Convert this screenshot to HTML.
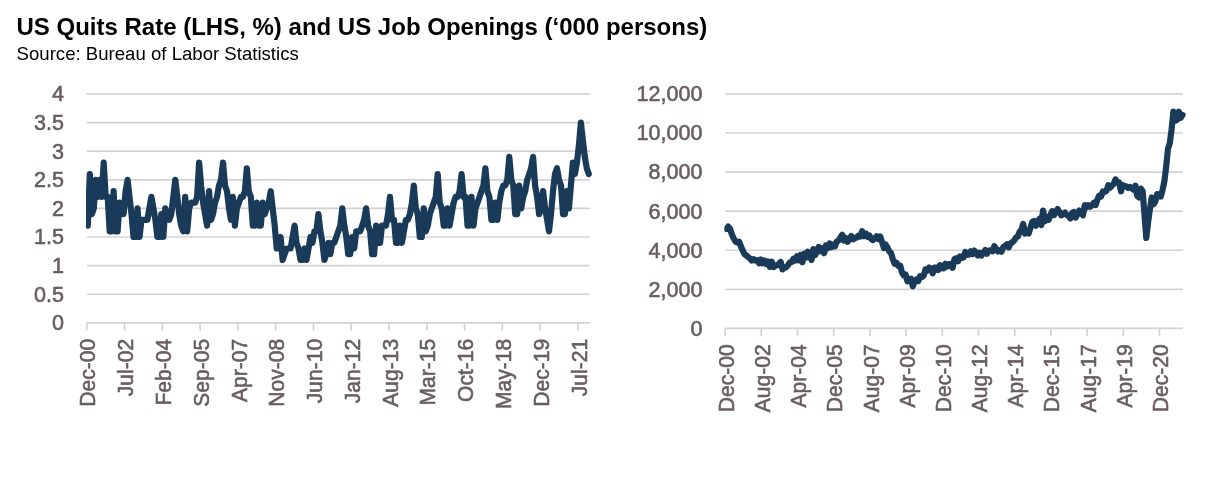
<!DOCTYPE html>
<html><head><meta charset="utf-8"><title>US Quits Rate and Job Openings</title>
<style>
html,body{margin:0;padding:0;background:#fff;}
body{width:1222px;height:482px;overflow:hidden;font-family:"Liberation Sans",sans-serif;}
svg{display:block;will-change:transform;}
</style></head><body>
<svg width="1222" height="482" viewBox="0 0 1222 482" font-family="'Liberation Sans', sans-serif">
<text id="title" x="16.5" y="35.0" font-size="24.0" font-weight="bold" fill="#000">US Quits Rate (LHS, %) and US Job Openings (‘000 persons)</text>
<text id="src" x="16.6" y="59.6" font-size="18.6" fill="#000">Source: Bureau of Labor Statistics</text>
<g id="left">
<line x1="86.80" y1="322.90" x2="589.80" y2="322.90" stroke="#d6d2d3" stroke-width="1.7"/>
<text transform="translate(64.0,330.30) scale(0.95,1)" text-anchor="end" font-size="22.7" fill="#695d60" stroke="#695d60" stroke-width="0.6">0</text>
<line x1="86.80" y1="294.27" x2="589.80" y2="294.27" stroke="#d6d2d3" stroke-width="1.7"/>
<text transform="translate(64.0,301.67) scale(0.95,1)" text-anchor="end" font-size="22.7" fill="#695d60" stroke="#695d60" stroke-width="0.6">0.5</text>
<line x1="86.80" y1="265.65" x2="589.80" y2="265.65" stroke="#d6d2d3" stroke-width="1.7"/>
<text transform="translate(64.0,273.05) scale(0.95,1)" text-anchor="end" font-size="22.7" fill="#695d60" stroke="#695d60" stroke-width="0.6">1</text>
<line x1="86.80" y1="237.02" x2="589.80" y2="237.02" stroke="#d6d2d3" stroke-width="1.7"/>
<text transform="translate(64.0,244.42) scale(0.95,1)" text-anchor="end" font-size="22.7" fill="#695d60" stroke="#695d60" stroke-width="0.6">1.5</text>
<line x1="86.80" y1="208.40" x2="589.80" y2="208.40" stroke="#d6d2d3" stroke-width="1.7"/>
<text transform="translate(64.0,215.80) scale(0.95,1)" text-anchor="end" font-size="22.7" fill="#695d60" stroke="#695d60" stroke-width="0.6">2</text>
<line x1="86.80" y1="179.78" x2="589.80" y2="179.78" stroke="#d6d2d3" stroke-width="1.7"/>
<text transform="translate(64.0,187.18) scale(0.95,1)" text-anchor="end" font-size="22.7" fill="#695d60" stroke="#695d60" stroke-width="0.6">2.5</text>
<line x1="86.80" y1="151.15" x2="589.80" y2="151.15" stroke="#d6d2d3" stroke-width="1.7"/>
<text transform="translate(64.0,158.55) scale(0.95,1)" text-anchor="end" font-size="22.7" fill="#695d60" stroke="#695d60" stroke-width="0.6">3</text>
<line x1="86.80" y1="122.53" x2="589.80" y2="122.53" stroke="#d6d2d3" stroke-width="1.7"/>
<text transform="translate(64.0,129.93) scale(0.95,1)" text-anchor="end" font-size="22.7" fill="#695d60" stroke="#695d60" stroke-width="0.6">3.5</text>
<line x1="86.80" y1="93.90" x2="589.80" y2="93.90" stroke="#d6d2d3" stroke-width="1.7"/>
<text transform="translate(64.0,101.30) scale(0.95,1)" text-anchor="end" font-size="22.7" fill="#695d60" stroke="#695d60" stroke-width="0.6">4</text>
<line x1="86.80" y1="322.90" x2="86.80" y2="330.70" stroke="#d6d2d3" stroke-width="1.7"/>
<text transform="translate(95.49,338.90) rotate(-90) scale(0.93,1)" text-anchor="end" font-size="22.6" fill="#695d60" stroke="#695d60" stroke-width="0.6">Dec-00</text>
<line x1="124.57" y1="322.90" x2="124.57" y2="330.70" stroke="#d6d2d3" stroke-width="1.7"/>
<text transform="translate(133.27,338.90) rotate(-90) scale(0.93,1)" text-anchor="end" font-size="22.6" fill="#695d60" stroke="#695d60" stroke-width="0.6">Jul-02</text>
<line x1="162.35" y1="322.90" x2="162.35" y2="330.70" stroke="#d6d2d3" stroke-width="1.7"/>
<text transform="translate(171.04,338.90) rotate(-90) scale(0.93,1)" text-anchor="end" font-size="22.6" fill="#695d60" stroke="#695d60" stroke-width="0.6">Feb-04</text>
<line x1="200.12" y1="322.90" x2="200.12" y2="330.70" stroke="#d6d2d3" stroke-width="1.7"/>
<text transform="translate(208.82,338.90) rotate(-90) scale(0.93,1)" text-anchor="end" font-size="22.6" fill="#695d60" stroke="#695d60" stroke-width="0.6">Sep-05</text>
<line x1="237.90" y1="322.90" x2="237.90" y2="330.70" stroke="#d6d2d3" stroke-width="1.7"/>
<text transform="translate(246.59,338.90) rotate(-90) scale(0.93,1)" text-anchor="end" font-size="22.6" fill="#695d60" stroke="#695d60" stroke-width="0.6">Apr-07</text>
<line x1="275.67" y1="322.90" x2="275.67" y2="330.70" stroke="#d6d2d3" stroke-width="1.7"/>
<text transform="translate(284.37,338.90) rotate(-90) scale(0.93,1)" text-anchor="end" font-size="22.6" fill="#695d60" stroke="#695d60" stroke-width="0.6">Nov-08</text>
<line x1="313.45" y1="322.90" x2="313.45" y2="330.70" stroke="#d6d2d3" stroke-width="1.7"/>
<text transform="translate(322.14,338.90) rotate(-90) scale(0.93,1)" text-anchor="end" font-size="22.6" fill="#695d60" stroke="#695d60" stroke-width="0.6">Jun-10</text>
<line x1="351.22" y1="322.90" x2="351.22" y2="330.70" stroke="#d6d2d3" stroke-width="1.7"/>
<text transform="translate(359.92,338.90) rotate(-90) scale(0.93,1)" text-anchor="end" font-size="22.6" fill="#695d60" stroke="#695d60" stroke-width="0.6">Jan-12</text>
<line x1="389.00" y1="322.90" x2="389.00" y2="330.70" stroke="#d6d2d3" stroke-width="1.7"/>
<text transform="translate(397.69,338.90) rotate(-90) scale(0.93,1)" text-anchor="end" font-size="22.6" fill="#695d60" stroke="#695d60" stroke-width="0.6">Aug-13</text>
<line x1="426.77" y1="322.90" x2="426.77" y2="330.70" stroke="#d6d2d3" stroke-width="1.7"/>
<text transform="translate(435.47,338.90) rotate(-90) scale(0.93,1)" text-anchor="end" font-size="22.6" fill="#695d60" stroke="#695d60" stroke-width="0.6">Mar-15</text>
<line x1="464.55" y1="322.90" x2="464.55" y2="330.70" stroke="#d6d2d3" stroke-width="1.7"/>
<text transform="translate(473.24,338.90) rotate(-90) scale(0.93,1)" text-anchor="end" font-size="22.6" fill="#695d60" stroke="#695d60" stroke-width="0.6">Oct-16</text>
<line x1="502.32" y1="322.90" x2="502.32" y2="330.70" stroke="#d6d2d3" stroke-width="1.7"/>
<text transform="translate(511.02,338.90) rotate(-90) scale(0.93,1)" text-anchor="end" font-size="22.6" fill="#695d60" stroke="#695d60" stroke-width="0.6">May-18</text>
<line x1="540.10" y1="322.90" x2="540.10" y2="330.70" stroke="#d6d2d3" stroke-width="1.7"/>
<text transform="translate(548.79,338.90) rotate(-90) scale(0.93,1)" text-anchor="end" font-size="22.6" fill="#695d60" stroke="#695d60" stroke-width="0.6">Dec-19</text>
<line x1="577.87" y1="322.90" x2="577.87" y2="330.70" stroke="#d6d2d3" stroke-width="1.7"/>
<text transform="translate(586.57,338.90) rotate(-90) scale(0.93,1)" text-anchor="end" font-size="22.6" fill="#695d60" stroke="#695d60" stroke-width="0.6">Jul-21</text>
<clipPath id="c86"><rect x="86.05" y="0" width="700" height="482"/></clipPath>
<polyline clip-path="url(#c86)" points="87.8,225.6 89.8,174.0 91.8,214.1 93.8,208.4 95.7,179.8 97.7,196.9 99.7,179.8 101.7,196.9 103.7,162.6 105.7,196.9 107.7,196.9 109.7,231.3 111.7,231.3 113.6,191.2 115.6,231.3 117.6,231.3 119.6,202.7 121.6,208.4 123.6,214.1 125.6,191.2 127.6,179.8 129.5,196.9 131.5,214.1 133.5,237.0 135.5,237.0 137.5,208.4 139.5,237.0 141.5,219.8 143.5,219.8 145.5,219.8 147.4,219.8 149.4,208.4 151.4,196.9 153.4,208.4 155.4,219.8 157.4,237.0 159.4,237.0 161.4,214.1 163.3,237.0 165.3,208.4 167.3,214.1 169.3,219.8 171.3,214.1 173.3,196.9 175.3,179.8 177.3,196.9 179.2,214.1 181.2,225.6 183.2,231.3 185.2,196.9 187.2,231.3 189.2,208.4 191.2,202.7 193.2,202.7 195.2,202.7 197.1,196.9 199.1,162.6 201.1,185.5 203.1,202.7 205.1,214.1 207.1,225.6 209.1,191.2 211.1,219.8 213.0,214.1 215.0,202.7 217.0,196.9 219.0,185.5 221.0,179.8 223.0,162.6 225.0,185.5 227.0,191.2 229.0,208.4 230.9,219.8 232.9,196.9 234.9,225.6 236.9,208.4 238.9,202.7 240.9,196.9 242.9,196.9 244.9,191.2 246.8,168.3 248.8,191.2 250.8,196.9 252.8,225.6 254.8,225.6 256.8,202.7 258.8,225.6 260.8,225.6 262.8,202.7 264.7,214.1 266.7,208.4 268.7,202.7 270.7,191.2 272.7,208.4 274.7,225.6 276.7,248.5 278.7,248.5 280.6,237.0 282.6,259.9 284.6,254.2 286.6,248.5 288.6,248.5 290.6,248.5 292.6,237.0 294.6,225.6 296.5,242.8 298.5,248.5 300.5,259.9 302.5,259.9 304.5,248.5 306.5,259.9 308.5,248.5 310.5,237.0 312.5,242.8 314.4,231.3 316.4,231.3 318.4,214.1 320.4,231.3 322.4,242.8 324.4,259.9 326.4,254.2 328.4,242.8 330.3,254.2 332.3,242.8 334.3,242.8 336.3,237.0 338.3,231.3 340.3,225.6 342.3,208.4 344.3,225.6 346.3,237.0 348.2,254.2 350.2,254.2 352.2,237.0 354.2,248.5 356.2,231.3 358.2,231.3 360.2,231.3 362.2,225.6 364.1,219.8 366.1,208.4 368.1,225.6 370.1,231.3 372.1,254.2 374.1,254.2 376.1,225.6 378.1,242.8 380.1,242.8 382.0,225.6 384.0,225.6 386.0,225.6 388.0,214.1 390.0,196.9 392.0,219.8 394.0,219.8 396.0,242.8 397.9,242.8 399.9,225.6 401.9,242.8 403.9,231.3 405.9,219.8 407.9,219.8 409.9,214.1 411.9,202.7 413.8,185.5 415.8,208.4 417.8,214.1 419.8,237.0 421.8,237.0 423.8,208.4 425.8,231.3 427.8,225.6 429.8,214.1 431.7,208.4 433.7,202.7 435.7,196.9 437.7,174.0 439.7,202.7 441.7,208.4 443.7,225.6 445.7,225.6 447.6,208.4 449.6,225.6 451.6,214.1 453.6,202.7 455.6,196.9 457.6,196.9 459.6,191.2 461.6,174.0 463.6,196.9 465.5,196.9 467.5,225.6 469.5,225.6 471.5,196.9 473.5,225.6 475.5,208.4 477.5,202.7 479.5,196.9 481.4,191.2 483.4,185.5 485.4,168.3 487.4,191.2 489.4,196.9 491.4,219.8 493.4,219.8 495.4,202.7 497.4,219.8 499.3,202.7 501.3,191.2 503.3,185.5 505.3,185.5 507.3,179.8 509.3,156.9 511.3,179.8 513.3,185.5 515.2,214.1 517.2,214.1 519.2,185.5 521.2,208.4 523.2,196.9 525.2,191.2 527.2,179.8 529.2,174.0 531.1,168.3 533.1,156.9 535.1,185.5 537.1,196.9 539.1,214.1 541.1,208.4 543.1,191.2 545.1,208.4 547.1,219.8 549.0,231.3 551.0,214.1 553.0,191.2 555.0,174.0 557.0,168.3 559.0,179.8 561.0,185.5 563.0,214.1 564.9,214.1 566.9,191.2 568.9,208.4 570.9,185.5 572.9,162.6 574.9,174.0 576.9,162.6 578.9,145.4 580.9,122.5 582.8,139.7 584.8,156.9 586.8,168.3 588.8,174.0" fill="none" stroke="#193b59" stroke-width="6.2" stroke-linejoin="round" stroke-linecap="round"/>
</g><g id="right">
<line x1="725.10" y1="328.40" x2="1183.00" y2="328.40" stroke="#d6d2d3" stroke-width="1.7"/>
<text transform="translate(702.5,335.80) scale(0.95,1)" text-anchor="end" font-size="22.7" fill="#695d60" stroke="#695d60" stroke-width="0.6">0</text>
<line x1="725.10" y1="289.32" x2="1183.00" y2="289.32" stroke="#d6d2d3" stroke-width="1.7"/>
<text transform="translate(702.5,296.72) scale(0.95,1)" text-anchor="end" font-size="22.7" fill="#695d60" stroke="#695d60" stroke-width="0.6">2,000</text>
<line x1="725.10" y1="250.23" x2="1183.00" y2="250.23" stroke="#d6d2d3" stroke-width="1.7"/>
<text transform="translate(702.5,257.63) scale(0.95,1)" text-anchor="end" font-size="22.7" fill="#695d60" stroke="#695d60" stroke-width="0.6">4,000</text>
<line x1="725.10" y1="211.15" x2="1183.00" y2="211.15" stroke="#d6d2d3" stroke-width="1.7"/>
<text transform="translate(702.5,218.55) scale(0.95,1)" text-anchor="end" font-size="22.7" fill="#695d60" stroke="#695d60" stroke-width="0.6">6,000</text>
<line x1="725.10" y1="172.07" x2="1183.00" y2="172.07" stroke="#d6d2d3" stroke-width="1.7"/>
<text transform="translate(702.5,179.47) scale(0.95,1)" text-anchor="end" font-size="22.7" fill="#695d60" stroke="#695d60" stroke-width="0.6">8,000</text>
<line x1="725.10" y1="132.98" x2="1183.00" y2="132.98" stroke="#d6d2d3" stroke-width="1.7"/>
<text transform="translate(702.5,140.38) scale(0.95,1)" text-anchor="end" font-size="22.7" fill="#695d60" stroke="#695d60" stroke-width="0.6">10,000</text>
<line x1="725.10" y1="93.90" x2="1183.00" y2="93.90" stroke="#d6d2d3" stroke-width="1.7"/>
<text transform="translate(702.5,101.30) scale(0.95,1)" text-anchor="end" font-size="22.7" fill="#695d60" stroke="#695d60" stroke-width="0.6">12,000</text>
<line x1="725.10" y1="328.40" x2="725.10" y2="336.20" stroke="#d6d2d3" stroke-width="1.7"/>
<text transform="translate(733.70,344.40) rotate(-90) scale(0.93,1)" text-anchor="end" font-size="22.6" fill="#695d60" stroke="#695d60" stroke-width="0.6">Dec-00</text>
<line x1="761.30" y1="328.40" x2="761.30" y2="336.20" stroke="#d6d2d3" stroke-width="1.7"/>
<text transform="translate(769.90,344.40) rotate(-90) scale(0.93,1)" text-anchor="end" font-size="22.6" fill="#695d60" stroke="#695d60" stroke-width="0.6">Aug-02</text>
<line x1="797.50" y1="328.40" x2="797.50" y2="336.20" stroke="#d6d2d3" stroke-width="1.7"/>
<text transform="translate(806.10,344.40) rotate(-90) scale(0.93,1)" text-anchor="end" font-size="22.6" fill="#695d60" stroke="#695d60" stroke-width="0.6">Apr-04</text>
<line x1="833.69" y1="328.40" x2="833.69" y2="336.20" stroke="#d6d2d3" stroke-width="1.7"/>
<text transform="translate(842.30,344.40) rotate(-90) scale(0.93,1)" text-anchor="end" font-size="22.6" fill="#695d60" stroke="#695d60" stroke-width="0.6">Dec-05</text>
<line x1="869.89" y1="328.40" x2="869.89" y2="336.20" stroke="#d6d2d3" stroke-width="1.7"/>
<text transform="translate(878.50,344.40) rotate(-90) scale(0.93,1)" text-anchor="end" font-size="22.6" fill="#695d60" stroke="#695d60" stroke-width="0.6">Aug-07</text>
<line x1="906.09" y1="328.40" x2="906.09" y2="336.20" stroke="#d6d2d3" stroke-width="1.7"/>
<text transform="translate(914.69,344.40) rotate(-90) scale(0.93,1)" text-anchor="end" font-size="22.6" fill="#695d60" stroke="#695d60" stroke-width="0.6">Apr-09</text>
<line x1="942.29" y1="328.40" x2="942.29" y2="336.20" stroke="#d6d2d3" stroke-width="1.7"/>
<text transform="translate(950.89,344.40) rotate(-90) scale(0.93,1)" text-anchor="end" font-size="22.6" fill="#695d60" stroke="#695d60" stroke-width="0.6">Dec-10</text>
<line x1="978.48" y1="328.40" x2="978.48" y2="336.20" stroke="#d6d2d3" stroke-width="1.7"/>
<text transform="translate(987.09,344.40) rotate(-90) scale(0.93,1)" text-anchor="end" font-size="22.6" fill="#695d60" stroke="#695d60" stroke-width="0.6">Aug-12</text>
<line x1="1014.68" y1="328.40" x2="1014.68" y2="336.20" stroke="#d6d2d3" stroke-width="1.7"/>
<text transform="translate(1023.29,344.40) rotate(-90) scale(0.93,1)" text-anchor="end" font-size="22.6" fill="#695d60" stroke="#695d60" stroke-width="0.6">Apr-14</text>
<line x1="1050.88" y1="328.40" x2="1050.88" y2="336.20" stroke="#d6d2d3" stroke-width="1.7"/>
<text transform="translate(1059.48,344.40) rotate(-90) scale(0.93,1)" text-anchor="end" font-size="22.6" fill="#695d60" stroke="#695d60" stroke-width="0.6">Dec-15</text>
<line x1="1087.08" y1="328.40" x2="1087.08" y2="336.20" stroke="#d6d2d3" stroke-width="1.7"/>
<text transform="translate(1095.68,344.40) rotate(-90) scale(0.93,1)" text-anchor="end" font-size="22.6" fill="#695d60" stroke="#695d60" stroke-width="0.6">Aug-17</text>
<line x1="1123.27" y1="328.40" x2="1123.27" y2="336.20" stroke="#d6d2d3" stroke-width="1.7"/>
<text transform="translate(1131.88,344.40) rotate(-90) scale(0.93,1)" text-anchor="end" font-size="22.6" fill="#695d60" stroke="#695d60" stroke-width="0.6">Apr-19</text>
<line x1="1159.47" y1="328.40" x2="1159.47" y2="336.20" stroke="#d6d2d3" stroke-width="1.7"/>
<text transform="translate(1168.08,344.40) rotate(-90) scale(0.93,1)" text-anchor="end" font-size="22.6" fill="#695d60" stroke="#695d60" stroke-width="0.6">Dec-20</text>
<clipPath id="c725"><rect x="724.35" y="0" width="700" height="482"/></clipPath>
<polyline clip-path="url(#c725)" points="726.4,228.9 728.2,226.6 730.0,228.7 731.8,234.2 733.6,238.2 735.5,241.6 737.3,242.6 739.1,241.7 740.9,246.3 742.7,250.4 744.5,254.3 746.3,255.3 748.1,257.1 749.9,258.4 751.7,260.5 753.6,259.1 755.4,260.5 757.2,260.2 759.0,263.3 760.8,259.6 762.6,263.3 764.4,260.6 766.2,264.1 768.0,261.6 769.8,266.8 771.7,261.6 773.5,267.0 775.3,265.9 777.1,265.3 778.9,263.9 780.7,262.0 782.5,269.4 784.3,267.9 786.1,267.2 787.9,265.3 789.8,262.5 791.6,262.0 793.4,258.8 795.2,260.4 797.0,256.1 798.8,260.4 800.6,254.9 802.4,262.3 804.2,253.6 806.0,257.7 807.8,251.8 809.7,256.1 811.5,260.0 813.3,249.1 815.1,255.1 816.9,251.2 818.7,246.9 820.5,251.2 822.3,248.3 824.1,253.2 825.9,245.5 827.8,248.3 829.6,243.4 831.4,247.3 833.2,244.8 835.0,246.3 836.8,241.4 838.6,240.5 840.4,237.5 842.2,234.8 844.0,240.5 845.9,238.1 847.7,241.8 849.5,238.5 851.3,236.0 853.1,239.3 854.9,238.1 856.7,237.5 858.5,235.6 860.3,236.6 862.1,231.3 864.0,236.2 865.8,233.4 867.6,236.9 869.4,235.6 871.2,238.9 873.0,240.1 874.8,238.3 876.6,236.3 878.4,239.0 880.2,236.5 882.1,242.0 883.9,248.2 885.7,244.6 887.5,247.4 889.3,251.4 891.1,253.2 892.9,259.4 894.7,263.7 896.5,262.7 898.3,265.9 900.2,265.6 902.0,272.5 903.8,275.3 905.6,274.5 907.4,281.3 909.2,279.1 911.0,278.7 912.8,286.3 914.6,281.7 916.4,279.5 918.3,281.0 920.1,276.1 921.9,277.2 923.7,275.7 925.5,269.3 927.3,270.5 929.1,267.6 930.9,268.8 932.7,273.3 934.5,267.7 936.4,267.6 938.2,270.1 940.0,265.1 941.8,268.1 943.6,268.3 945.4,263.8 947.2,266.5 949.0,264.2 950.8,264.2 952.6,267.8 954.4,259.3 956.3,258.3 958.1,261.2 959.9,256.4 961.7,258.0 963.5,257.4 965.3,252.0 967.1,254.4 968.9,254.7 970.7,251.2 972.5,254.1 974.4,250.6 976.2,253.1 978.0,255.6 979.8,252.7 981.6,255.6 983.4,253.0 985.2,250.0 987.0,253.7 988.8,250.8 990.6,250.3 992.5,251.2 994.3,246.2 996.1,248.8 997.9,251.4 999.7,250.3 1001.5,251.7 1003.3,247.0 1005.1,246.0 1006.9,244.4 1008.7,247.3 1010.6,243.4 1012.4,242.2 1014.2,240.5 1016.0,237.5 1017.8,236.6 1019.6,231.7 1021.4,229.7 1023.2,224.0 1025.0,233.6 1026.8,230.7 1028.7,233.4 1030.5,227.8 1032.3,221.9 1034.1,220.9 1035.9,225.8 1037.7,221.9 1039.5,218.8 1041.3,225.0 1043.1,210.5 1044.9,221.3 1046.8,217.0 1048.6,219.8 1050.4,215.1 1052.2,211.1 1054.0,215.1 1055.8,212.1 1057.6,208.9 1059.4,212.1 1061.2,215.3 1063.0,214.1 1064.9,212.5 1066.7,215.1 1068.5,216.0 1070.3,218.4 1072.1,213.1 1073.9,211.9 1075.7,217.6 1077.5,214.1 1079.3,210.5 1081.1,213.1 1083.0,215.3 1084.8,205.1 1086.6,207.2 1088.4,205.3 1090.2,206.7 1092.0,205.3 1093.8,202.8 1095.6,205.0 1097.4,199.6 1099.2,195.6 1101.1,196.5 1102.9,191.5 1104.7,191.9 1106.5,190.9 1108.3,185.3 1110.1,187.5 1111.9,185.7 1113.7,183.8 1115.5,179.4 1117.3,182.2 1119.1,182.3 1121.0,191.3 1122.8,185.2 1124.6,185.9 1126.4,186.4 1128.2,188.0 1130.0,187.0 1131.8,188.4 1133.6,189.8 1135.4,185.6 1137.2,195.7 1139.1,197.5 1140.9,188.6 1142.7,191.4 1144.5,214.9 1146.3,237.9 1148.1,222.5 1149.9,209.4 1151.7,197.5 1153.5,204.3 1155.3,201.5 1157.2,194.1 1159.0,196.2 1160.8,196.5 1162.6,189.7 1164.4,181.3 1166.2,166.4 1168.0,148.8 1169.8,143.1 1171.6,129.4 1173.4,111.5 1175.3,120.7 1177.1,119.8 1178.9,111.7 1180.7,117.8 1182.5,114.9" fill="none" stroke="#193b59" stroke-width="6.2" stroke-linejoin="round" stroke-linecap="round"/>
</g></svg>
</body></html>
